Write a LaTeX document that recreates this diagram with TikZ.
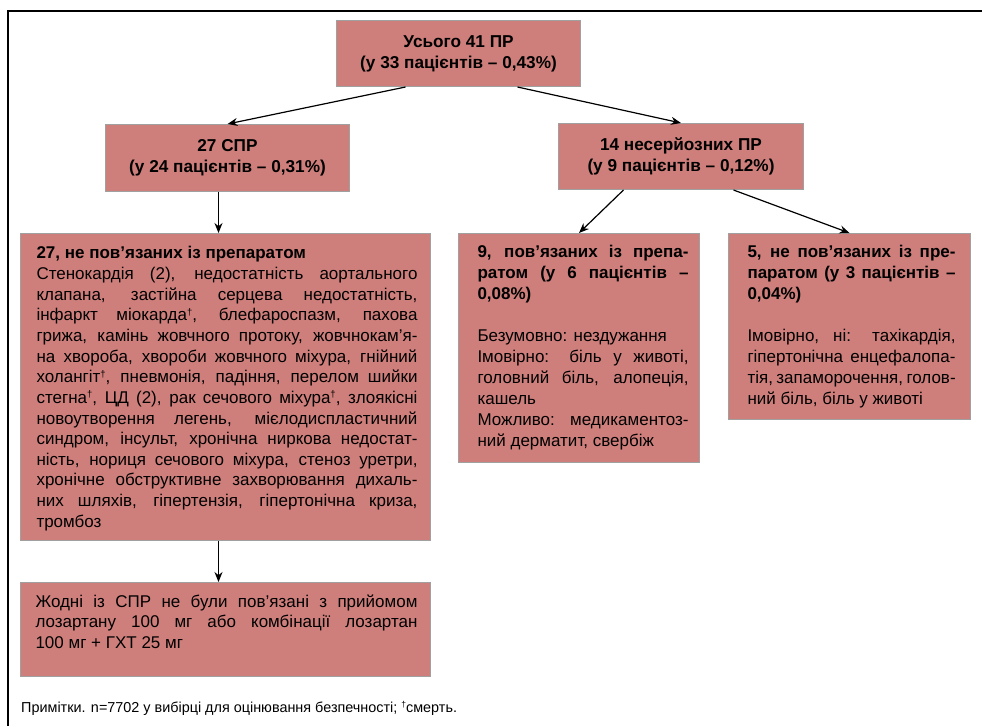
\documentclass[tikz,border=0pt]{standalone}
\usepackage{fontspec}
\setmainfont{Liberation Sans}
\usetikzlibrary{arrows.meta}
\definecolor{boxfill}{RGB}{207,127,123}
\definecolor{boxline}{RGB}{160,160,160}
\newcommand\J[1]{\makebox[\linewidth][s]{#1}\\}
\newcommand\dg{\raisebox{5.5pt}{\fontsize{9.5}{9.5}\selectfont †}}
\begin{document}
\begin{tikzpicture}[x=1pt,y=-1pt,
  box/.style={draw=boxline, fill=boxfill, line width=1pt, anchor=north west, inner sep=0pt},
  arr/.style={-{Stealth[length=10pt,width=8pt]}, line width=1.2pt},
  hd/.style={font=\fontsize{17.2}{21}\selectfont\bfseries, align=center}]
\useasboundingbox (0,0) rectangle (982,726);
\draw[line width=2pt] (982,11) -- (8,11) -- (8,726);

\node[box,hd,minimum width=244pt,minimum height=66pt] (top) at (336,20) {Усього 41 ПР\\(у 33 пацієнтів – 0,43\%)};
\node[box,hd,minimum width=244pt,minimum height=67pt] (spr) at (105,124) {27 СПР\\(у 24 пацієнтів – 0,31\%)};
\node[box,hd,minimum width=245pt,minimum height=66pt] (nes) at (558,123) {14 несерйозних ПР\\(у 9 пацієнтів – 0,12\%)};

\node[box] (big) at (20,233) {\hspace*{16pt}\parbox[c][307pt][t]{381pt}{\fontsize{17}{20.65}\selectfont\vspace*{13pt}
\textbf{27, не пов’язаних із препаратом}\\
\J{Стенокардія (2), недостатність аортального}
\J{клапана, застійна серцева недостатність,}
\J{інфаркт міокарда\dg, блефароспазм, пахова}
\J{грижа, камінь жовчного протоку, жовчнокам’я-}
\J{на хвороба, хвороби жовчного міхура, гнійний}
\J{холангіт\dg, пневмонія, падіння, перелом шийки}
\J{стегна\dg, ЦД (2), рак сечового міхура\dg, злоякісні}
\J{новоутворення легень, мієлодиспластичний}
\J{синдром, інсульт, хронічна ниркова недостат-}
\J{ність, нориця сечового міхура, стеноз уретри,}
\J{хронічне обструктивне захворювання дихаль-}
\J{них шляхів, гіпертензія, гіпертонічна криза,}
тромбоз}\hspace*{13pt}};

\node[box,minimum height=229pt] (mid) at (458,233) {\hspace*{19pt}\parbox{211pt}{\fontsize{17}{21}\selectfont\bfseries
\J{9, пов’язаних із препа-}
\J{ратом (у 6 пацієнтів –}
0,08\%)\par\mdseries
\mbox{}\\
Безумовно: нездужання\\
\J{Імовірно: біль у животі,}
\J{головний біль, алопеція,}
кашель\\
\J{Можливо: медикаментоз-}
ний дерматит, свербіж}\hspace*{11pt}};

\node[box,minimum height=186pt] (rgt) at (728,233) {\hspace*{19pt}\parbox{208pt}{\fontsize{17}{21}\selectfont\bfseries
\J{5, не пов’язаних із пре-}
\J{паратом (у 3 пацієнтів –}
0,04\%)\par\mdseries
\mbox{}\\
\J{Імовірно, ні: тахікардія,}
\J{гіпертонічна енцефалопа-}
\J{тія, запаморочення, голов-}
ний біль, біль у животі}\hspace*{15pt}};

\node[box] (res) at (20,582) {\hspace*{15pt}\parbox[c][94pt][t]{382pt}{\fontsize{17}{20.65}\selectfont\vspace*{12pt}
\J{Жодні із СПР не були пов’язані з прийомом}
\J{лозартану 100 мг або комбінації лозартан}
100 мг + ГХТ 25 мг}\hspace*{13pt}};

\node[anchor=west, inner sep=0pt, font=\fontsize{14.4}{16}\selectfont] (note) at (21,708) {Примітки. n=7702 у вибірці для оцінювання безпечності; \raisebox{5pt}{\fontsize{8.5}{8.5}\selectfont †}смерть.};

\draw[arr] ([xshift=-53pt]top.south) -- (spr.north);
\draw[arr] ([xshift=59pt]top.south) -- (nes.north);
\draw[arr] ([xshift=-9pt]spr.south) -- ([xshift=-9pt]spr.south |- big.north);
\draw[arr] ([xshift=-57.5pt]nes.south) -- (mid.north);
\draw[arr] ([xshift=52.5pt]nes.south) -- (rgt.north);
\draw[arr] ([xshift=-7pt]big.south) -- ([xshift=-7pt]big.south |- res.north);
\end{tikzpicture}
\end{document}
